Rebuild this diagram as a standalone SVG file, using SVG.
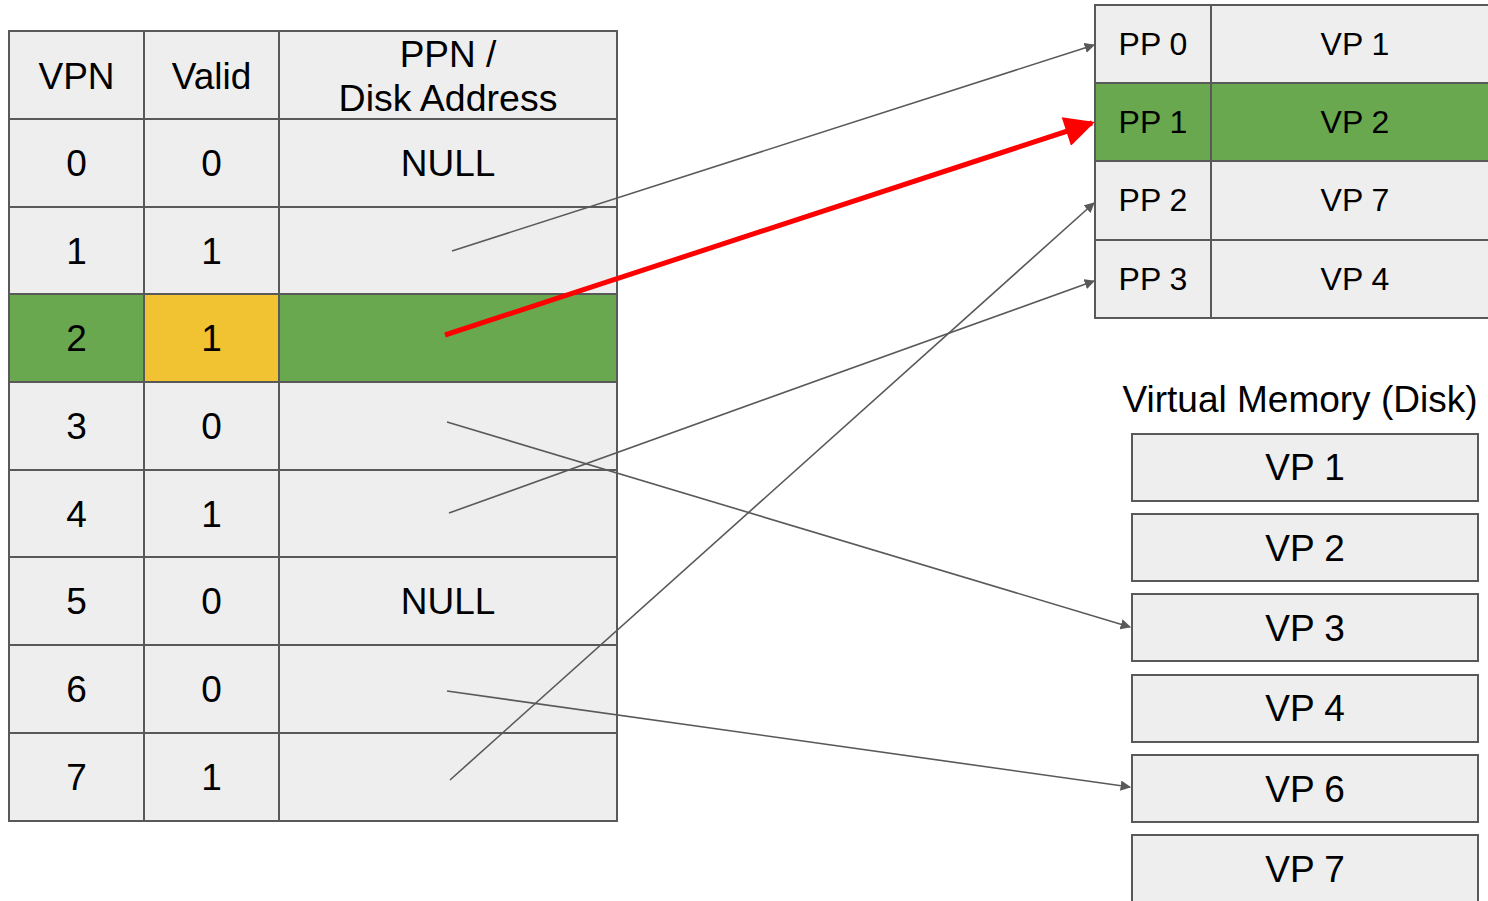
<svg xmlns="http://www.w3.org/2000/svg" width="1488" height="901" viewBox="0 0 1488 901">
<style>
.c{fill:#eeeeee;stroke:#595959;stroke-width:2}
.g{fill:#6aa84f;stroke:#595959;stroke-width:2}
.y{fill:#f1c232;stroke:#595959;stroke-width:2}
.t{font-family:"Liberation Sans",Arial,sans-serif;font-size:37px;fill:#000;text-anchor:middle;dominant-baseline:central}
.s{font-size:32px}
.ln{fill:none;stroke:#595959;stroke-width:1.6}
.rd{fill:none;stroke:#ff0000;stroke-width:5}
</style>
<defs>
<marker id="ag" viewBox="0 0 10 10" refX="9" refY="5" markerWidth="6.5" markerHeight="6.5" orient="auto" markerUnits="strokeWidth"><path d="M0,0 L10,5 L0,10 z" fill="#595959"/></marker>
<marker id="ar" viewBox="0 0 10 10" refX="9" refY="5" markerWidth="8" markerHeight="6" orient="auto" markerUnits="strokeWidth"><path d="M0,0 L10,5 L0,10 z" fill="#ff0000"/></marker>
</defs>
<rect width="1488" height="901" fill="#fff"/>
<g id="page-table">
<rect class="c" x="9" y="31" width="135" height="88"/><text class="t" x="76.5" y="76">VPN</text>
<rect class="c" x="144" y="31" width="135" height="88"/><text class="t" x="211.5" y="76">Valid</text>
<rect class="c" x="279" y="31" width="338" height="88"/><text class="t" x="448" y="54">PPN /</text><text class="t" x="448" y="98" style="font-size:37.5px">Disk Address</text>
<g id="row0"><rect class="c" x="9" y="119" width="135" height="88"/><rect class="c" x="144" y="119" width="135" height="88"/><rect class="c" x="279" y="119" width="338" height="88"/><text class="t" x="76.5" y="163">0</text><text class="t" x="211.5" y="163">0</text><text class="t" x="448" y="163">NULL</text></g>
<g id="row1"><rect class="c" x="9" y="207" width="135" height="87"/><rect class="c" x="144" y="207" width="135" height="87"/><rect class="c" x="279" y="207" width="338" height="87"/><text class="t" x="76.5" y="251">1</text><text class="t" x="211.5" y="251">1</text></g>
<g id="row2"><rect class="g" x="9" y="294" width="135" height="88"/><rect class="y" x="144" y="294" width="135" height="88"/><rect class="g" x="279" y="294" width="338" height="88"/><text class="t" x="76.5" y="338">2</text><text class="t" x="211.5" y="338">1</text></g>
<g id="row3"><rect class="c" x="9" y="382" width="135" height="88"/><rect class="c" x="144" y="382" width="135" height="88"/><rect class="c" x="279" y="382" width="338" height="88"/><text class="t" x="76.5" y="426">3</text><text class="t" x="211.5" y="426">0</text></g>
<g id="row4"><rect class="c" x="9" y="470" width="135" height="87"/><rect class="c" x="144" y="470" width="135" height="87"/><rect class="c" x="279" y="470" width="338" height="87"/><text class="t" x="76.5" y="514">4</text><text class="t" x="211.5" y="514">1</text></g>
<g id="row5"><rect class="c" x="9" y="557" width="135" height="88"/><rect class="c" x="144" y="557" width="135" height="88"/><rect class="c" x="279" y="557" width="338" height="88"/><text class="t" x="76.5" y="601">5</text><text class="t" x="211.5" y="601">0</text><text class="t" x="448" y="601">NULL</text></g>
<g id="row6"><rect class="c" x="9" y="645" width="135" height="88"/><rect class="c" x="144" y="645" width="135" height="88"/><rect class="c" x="279" y="645" width="338" height="88"/><text class="t" x="76.5" y="689">6</text><text class="t" x="211.5" y="689">0</text></g>
<g id="row7"><rect class="c" x="9" y="733" width="135" height="88"/><rect class="c" x="144" y="733" width="135" height="88"/><rect class="c" x="279" y="733" width="338" height="88"/><text class="t" x="76.5" y="777">7</text><text class="t" x="211.5" y="777">1</text></g>
</g>
<g id="physical-memory">
<g id="pp0"><rect class="c" x="1095" y="5" width="116" height="78"/><rect class="c" x="1211" y="5" width="290" height="78"/><text class="t s" x="1153" y="44">PP 0</text><text class="t s" x="1355" y="44">VP 1</text></g>
<g id="pp1"><rect class="g" x="1095" y="83" width="116" height="78"/><rect class="g" x="1211" y="83" width="290" height="78"/><text class="t s" x="1153" y="122">PP 1</text><text class="t s" x="1355" y="122">VP 2</text></g>
<g id="pp2"><rect class="c" x="1095" y="161" width="116" height="79"/><rect class="c" x="1211" y="161" width="290" height="79"/><text class="t s" x="1153" y="200">PP 2</text><text class="t s" x="1355" y="200">VP 7</text></g>
<g id="pp3"><rect class="c" x="1095" y="240" width="116" height="78"/><rect class="c" x="1211" y="240" width="290" height="78"/><text class="t s" x="1153" y="279">PP 3</text><text class="t s" x="1355" y="279">VP 4</text></g>
</g>
<g id="disk">
<text class="t" x="1300" y="399">Virtual Memory (Disk)</text>
<g id="vp1"><rect class="c" x="1132" y="434" width="346" height="67"/><text class="t" x="1305" y="467">VP 1</text></g>
<g id="vp2"><rect class="c" x="1132" y="514" width="346" height="67"/><text class="t" x="1305" y="548">VP 2</text></g>
<g id="vp3"><rect class="c" x="1132" y="594" width="346" height="67"/><text class="t" x="1305" y="628">VP 3</text></g>
<g id="vp4"><rect class="c" x="1132" y="675" width="346" height="67"/><text class="t" x="1305" y="708">VP 4</text></g>
<g id="vp6"><rect class="c" x="1132" y="755" width="346" height="67"/><text class="t" x="1305" y="789">VP 6</text></g>
<g id="vp7"><rect class="c" x="1132" y="835" width="346" height="70"/><text class="t" x="1305" y="869">VP 7</text></g>
</g>
<g id="connectors">
<line class="ln" x1="452" y1="251" x2="1094" y2="45" marker-end="url(#ag)"/>
<line class="ln" x1="447" y1="422" x2="1130" y2="627" marker-end="url(#ag)"/>
<line class="ln" x1="449" y1="513" x2="1094" y2="281" marker-end="url(#ag)"/>
<line class="ln" x1="447" y1="691" x2="1130" y2="787" marker-end="url(#ag)"/>
<line class="ln" x1="450" y1="780" x2="1094" y2="203" marker-end="url(#ag)"/>
<line class="rd" x1="445" y1="335" x2="1092" y2="123" marker-end="url(#ar)"/>
</g>
</svg>
